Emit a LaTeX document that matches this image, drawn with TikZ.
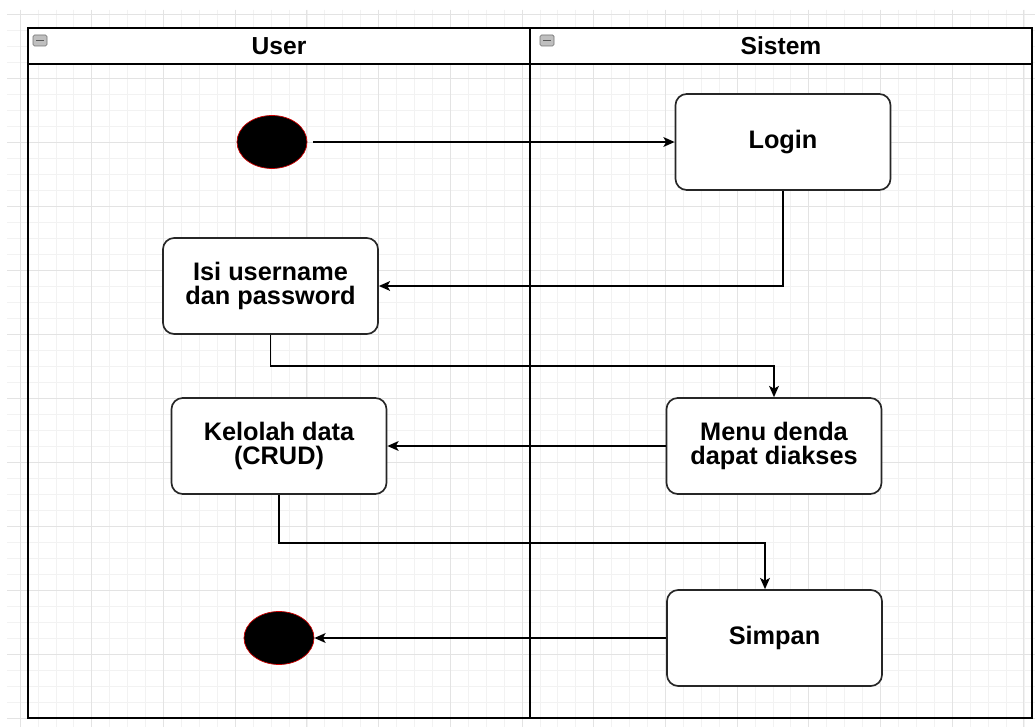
\documentclass[tikz,border=0pt]{standalone}
\usepackage{fontspec}
\setmainfont{Liberation Sans}
\usetikzlibrary{arrows.meta,shapes.geometric}
\begin{document}
\begin{tikzpicture}[x=0.025cm,y=-0.025cm,
		act/.style={draw=black!85,line width=1.2pt,rounded corners=8pt,fill=white,
			minimum width=5.375cm,minimum height=2.4cm,align=center,
			font=\fontsize{18}{17.5}\selectfont\bfseries},
		startend/.style={ellipse,draw=red!80!black,fill=black,line width=0.5pt,
			minimum width=1.75cm,minimum height=1.325cm,inner sep=0pt},
		lanehead/.style={draw,line width=1.2pt,fill=white,minimum width=12.55cm,
			minimum height=0.9cm,font=\fontsize{17.5}{20}\selectfont\bfseries},
		flow/.style={draw=black,line width=1pt,-{Stealth[length=8pt,width=7pt,inset=2pt]}},
		minorgrid/.style={draw=black!5,line width=0.4pt},
		majorgrid/.style={draw=black!11,line width=0.5pt}]
		\useasboundingbox[fill=white](0,0)rectangle(1035,727);
		\foreach \k in {0,...,56}
			\draw[minorgrid]({20+17.925*\k},10)--({20+17.925*\k},727);
		\foreach \k in {0,...,44}
			\draw[minorgrid](7,{14.7+16*\k})--(1035,{14.7+16*\k});
		\foreach \k in {0,...,14}
			\draw[majorgrid]({20+71.7*\k},10)--({20+71.7*\k},727);
		\foreach \k in {0,...,11}
			\draw[majorgrid](7,{14.7+64*\k})--(1035,{14.7+64*\k});
		\draw[line width=1.2pt](28,64)rectangle(530,718);
		\draw[line width=1.2pt](530,64)rectangle(1032,718);
		\node[lanehead](hUser)at(279,46){User};
		\node[lanehead](hSistem)at(781,46){Sistem};
		\foreach \ix in {33,540}{
			\filldraw[fill=black!25,draw=black!55,rounded corners=1pt](\ix,35)rectangle++(14,11);
			\draw[black!65,line width=1pt]({\ix+3},40.5)--({\ix+11},40.5);
		}
		\node[startend](start)at(272,142){};
		\node[act](login)at(783,142){Login};
		\node[act](isi)at(270.5,286){Isi username\\dan password};
		\node[act](menu)at(774,446){Menu denda\\dapat diakses};
		\node[act](kelola)at(279,446){Kelolah data\\(CRUD)};
		\node[act](simpan)at(774.5,638){Simpan};
		\node[startend](end)at(279,638){};
		\coordinate(k1)at(0,366);
		\coordinate(k2)at(765,543);
		\draw[flow,shorten <=4pt](start)--(login);
		\draw[flow](login.south)|-(isi.east);
		\draw[flow](isi.south)|-(k1-|menu.north)--(menu.north);
		\draw[flow](menu)--(kelola);
		\draw[flow](kelola.south)|-(k2)--(k2|-simpan.north);
		\draw[flow](simpan)--(end);
	\end{tikzpicture}
\end{document}
